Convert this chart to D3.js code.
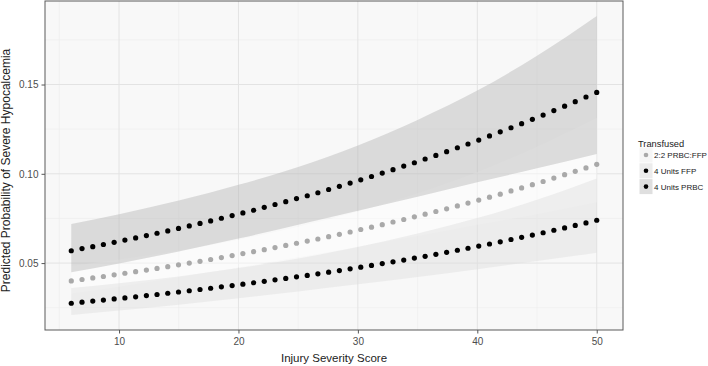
<!DOCTYPE html>
<html>
<head>
<meta charset="utf-8">
<title>Predicted probability of severe hypocalcemia</title>
<style>
  body { margin: 0; background: #fff; }
  text { font-family: "Liberation Sans", Arial, sans-serif; }
</style>
</head>
<body>
<script src="https://d3js.org/d3.v7.min.js"></script>
<script>
// injury severity score at each predicted point
const issScore = [6.00, 6.90, 7.80, 8.69, 9.59, 10.49, 11.39, 12.29, 13.18, 14.08,
  14.98, 15.88, 16.78, 17.67, 18.57, 19.47, 20.37, 21.27, 22.16, 23.06,
  23.96, 24.86, 25.76, 26.65, 27.55, 28.45, 29.35, 30.24, 31.14, 32.04,
  32.94, 33.84, 34.73, 35.63, 36.53, 37.43, 38.33, 39.22, 40.12, 41.02,
  41.92, 42.82, 43.71, 44.61, 45.51, 46.41, 47.31, 48.20, 49.10, 50.00];

const probRatio = [0.0400, 0.0408, 0.0417, 0.0425, 0.0434, 0.0443, 0.0452, 0.0461, 0.0470, 0.0480,
  0.0490, 0.0500, 0.0510, 0.0520, 0.0531, 0.0542, 0.0553, 0.0564, 0.0575, 0.0587,
  0.0599, 0.0611, 0.0623, 0.0635, 0.0648, 0.0661, 0.0674, 0.0688, 0.0701, 0.0715,
  0.0730, 0.0744, 0.0759, 0.0774, 0.0789, 0.0804, 0.0820, 0.0836, 0.0853, 0.0869,
  0.0886, 0.0904, 0.0921, 0.0939, 0.0957, 0.0976, 0.0995, 0.1014, 0.1033, 0.1053];

const probFFP = [0.0275, 0.0281, 0.0287, 0.0293, 0.0299, 0.0305, 0.0311, 0.0318, 0.0324, 0.0331,
  0.0338, 0.0345, 0.0352, 0.0359, 0.0367, 0.0374, 0.0382, 0.0390, 0.0398, 0.0406,
  0.0414, 0.0423, 0.0431, 0.0440, 0.0449, 0.0458, 0.0468, 0.0477, 0.0487, 0.0497,
  0.0507, 0.0517, 0.0528, 0.0538, 0.0549, 0.0560, 0.0572, 0.0583, 0.0595, 0.0607,
  0.0619, 0.0632, 0.0644, 0.0657, 0.0670, 0.0684, 0.0697, 0.0711, 0.0725, 0.0740];

const probPRBC = [0.0569, 0.0581, 0.0592, 0.0604, 0.0616, 0.0629, 0.0641, 0.0654, 0.0667, 0.0680,
  0.0694, 0.0708, 0.0722, 0.0736, 0.0751, 0.0766, 0.0781, 0.0796, 0.0812, 0.0828,
  0.0844, 0.0861, 0.0877, 0.0894, 0.0912, 0.0930, 0.0948, 0.0966, 0.0985, 0.1004,
  0.1023, 0.1043, 0.1062, 0.1083, 0.1103, 0.1124, 0.1146, 0.1167, 0.1189, 0.1212,
  0.1235, 0.1258, 0.1281, 0.1305, 0.1329, 0.1354, 0.1379, 0.1404, 0.1430, 0.1456];

// confidence bands
const bandIss = [6, 10, 15, 20, 25, 30, 35, 40, 45, 50];
const lowerRatio = [0.0330, 0.0368, 0.0421, 0.0475, 0.0532, 0.0592, 0.0651, 0.0714, 0.0774, 0.0840];
const upperRatio = [0.0484, 0.0520, 0.0570, 0.0631, 0.0704, 0.0789, 0.0891, 0.1010, 0.1152, 0.1312];
const lowerFFP = [0.0209, 0.0234, 0.0267, 0.0303, 0.0341, 0.0381, 0.0422, 0.0466, 0.0511, 0.0558];
const upperFFP = [0.0361, 0.0387, 0.0425, 0.0472, 0.0525, 0.0590, 0.0665, 0.0752, 0.0854, 0.0973];
const lowerPRBC = [0.0449, 0.0498, 0.0565, 0.0637, 0.0714, 0.0793, 0.0871, 0.0952, 0.1031, 0.1111];
const upperPRBC = [0.0719, 0.0774, 0.0850, 0.0938, 0.1038, 0.1159, 0.1302, 0.1466, 0.1661, 0.1884];

const groups = ["2:2 PRBC:FFP", "4 Units FFP", "4 Units PRBC"];
const xTicks = [10, 20, 30, 40, 50];
const xMinor = [5, 15, 25, 35, 45];
const yTicks = [0.05, 0.10, 0.15];
const yMinor = [0.025, 0.075, 0.125, 0.175];

const W = 708, H = 366;
const pLeft = 45, pRight = 623, pTop = 1, pBottom = 330;

const series = [
  { name: groups[0], prob: probRatio, lo: lowerRatio, hi: upperRatio, dot: "#a9a9a9", band: "#ffffff", key: "#f6f6f6" },
  { name: groups[1], prob: probFFP, lo: lowerFFP, hi: upperFFP, dot: "#000000", band: "#dedede", key: "#ececec" },
  { name: groups[2], prob: probPRBC, lo: lowerPRBC, hi: upperPRBC, dot: "#000000", band: "#b5b5b5", key: "#dfdfdf" }
];

// ggplot-like 5% expansion
function expand(ext) {
  const pad = (ext[1] - ext[0]) * 0.05;
  return [ext[0] - pad, ext[1] + pad];
}
const allY = [].concat(lowerRatio, upperRatio, lowerFFP, upperFFP, lowerPRBC, upperPRBC, probRatio, probFFP, probPRBC);

const x = d3.scaleLinear().domain(expand(d3.extent(issScore))).range([pLeft, pRight]);
const y = d3.scaleLinear().domain(expand(d3.extent(allY))).range([pBottom, pTop]);

const svg = d3.select("body").append("svg")
  .attr("width", W)
  .attr("height", H);

// panel
svg.append("rect")
  .attr("x", pLeft).attr("y", pTop)
  .attr("width", pRight - pLeft).attr("height", pBottom - pTop)
  .attr("fill", "#f8f8f8");

const grid = svg.append("g");
grid.selectAll(".ymin").data(yMinor).join("line")
  .attr("x1", pLeft).attr("x2", pRight)
  .attr("y1", d => y(d)).attr("y2", d => y(d))
  .attr("stroke", "#ededed").attr("stroke-width", 0.6);
grid.selectAll(".xmin").data(xMinor).join("line")
  .attr("y1", pTop).attr("y2", pBottom)
  .attr("x1", d => x(d)).attr("x2", d => x(d))
  .attr("stroke", "#ededed").attr("stroke-width", 0.6);
grid.selectAll(".ymaj").data(yTicks).join("line")
  .attr("x1", pLeft).attr("x2", pRight)
  .attr("y1", d => y(d)).attr("y2", d => y(d))
  .attr("stroke", "#e3e3e3").attr("stroke-width", 1);
grid.selectAll(".xmaj").data(xTicks).join("line")
  .attr("y1", pTop).attr("y2", pBottom)
  .attr("x1", d => x(d)).attr("x2", d => x(d))
  .attr("stroke", "#e3e3e3").attr("stroke-width", 1);

// ribbons
const area = d3.area()
  .x(d => x(d.iss))
  .y0(d => y(d.lo))
  .y1(d => y(d.hi))
  .curve(d3.curveMonotoneX);

series.forEach(s => {
  const pts = bandIss.map((v, i) => ({ iss: v, lo: s.lo[i], hi: s.hi[i] }));
  svg.append("path")
    .attr("d", area(pts))
    .attr("fill", s.band)
    .attr("fill-opacity", 0.45);
});

// points
series.forEach(s => {
  svg.append("g").selectAll("circle")
    .data(issScore.map((v, i) => [v, s.prob[i]]))
    .join("circle")
    .attr("cx", d => x(d[0]))
    .attr("cy", d => y(d[1]))
    .attr("r", 2.6)
    .attr("fill", s.dot);
});

// panel border
svg.append("rect")
  .attr("x", pLeft).attr("y", pTop)
  .attr("width", pRight - pLeft).attr("height", pBottom - pTop)
  .attr("fill", "none")
  .attr("stroke", "#5a5a5a")
  .attr("stroke-width", 1);

// axes
const xAxis = svg.append("g")
  .attr("transform", "translate(0," + pBottom + ")")
  .call(d3.axisBottom(x).tickValues(xTicks).tickSize(3.5).tickPadding(4));
const yAxis = svg.append("g")
  .attr("transform", "translate(" + pLeft + ",0)")
  .call(d3.axisLeft(y).tickValues(yTicks).tickFormat(d3.format(".2f")).tickSize(3.5).tickPadding(3));
[xAxis, yAxis].forEach(a => {
  a.select(".domain").remove();
  a.selectAll(".tick line").attr("stroke", "#555");
  a.selectAll(".tick text").attr("fill", "#4d4d4d").style("font-size", "10px");
});

svg.append("text")
  .attr("x", (pLeft + pRight) / 2)
  .attr("y", 362)
  .attr("text-anchor", "middle")
  .attr("fill", "#222")
  .style("font-size", "11.5px")
  .text("Injury Severity Score");

svg.append("text")
  .attr("transform", "translate(10," + ((pTop + pBottom) / 2 + 5) + ") rotate(-90)")
  .attr("text-anchor", "middle")
  .attr("fill", "#222")
  .style("font-size", "12px")
  .text("Predicted Probability of Severe Hypocalcemia");

// legend
const legend = svg.append("g").attr("transform", "translate(638,0)");
legend.append("text")
  .attr("x", 0).attr("y", 147)
  .attr("fill", "#222")
  .style("font-size", "9.3px")
  .text("Transfused");

const items = legend.selectAll(".item").data(series).join("g")
  .attr("transform", (d, i) => "translate(0," + (155 + i * 15.8) + ")");
items.append("rect")
  .attr("x", 1.5).attr("y", -7.5)
  .attr("width", 13).attr("height", 15)
  .attr("fill", d => d.key);
items.append("circle")
  .attr("cx", 8).attr("cy", 0)
  .attr("r", 2.3)
  .attr("fill", d => d.dot);
items.append("text")
  .attr("x", 16).attr("y", 3)
  .attr("fill", "#222")
  .style("font-size", "8px")
  .text(d => d.name);
</script>
</body>
</html>
